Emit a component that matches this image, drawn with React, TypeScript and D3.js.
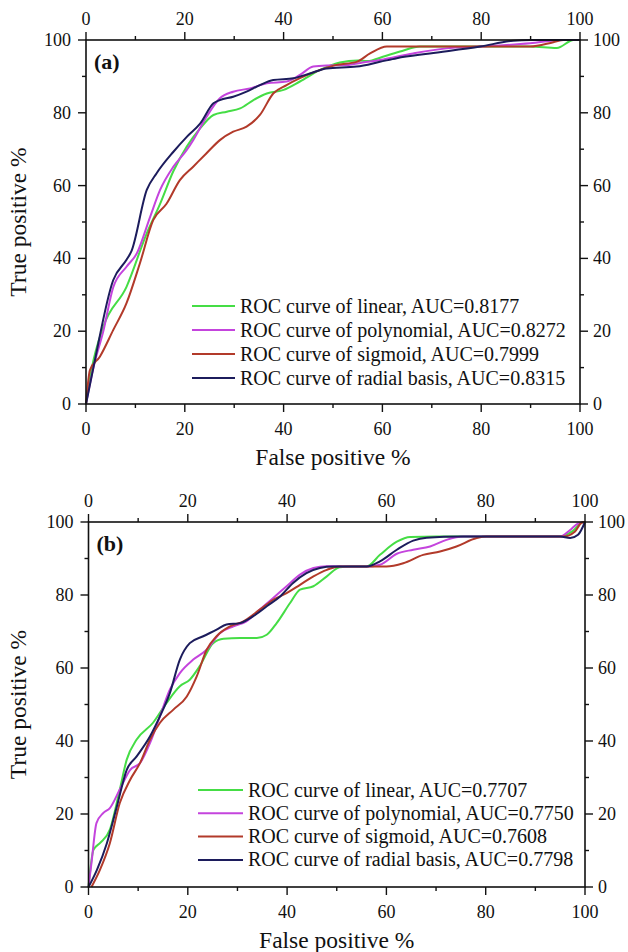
import React from "react";
import * as d3 from "d3";

// ---- data (x = false positive %, y = true positive %) ----
const seriesNames = ["linear", "polynomial", "sigmoid", "radial basis"];
const colors = ["#45dd45", "#c444dd", "#b23a2a", "#1c1c5c"];

const aucA = ["0.8177", "0.8272", "0.7999", "0.8315"];
const aucB = ["0.7707", "0.7750", "0.7608", "0.7798"];

const linearA = [[0,0],[1.1,9.3],[3.5,21.2],[8.2,32.2],[12.3,46.9],[15,55],[17.7,64],[20.4,70.7],[23.1,75.7],[25.8,79.4],[28.5,80.3],[31.2,81.2],[33.9,83.5],[36.6,85.3],[40,86.3],[43.3,88.6],[47.4,91.8],[51.4,93.8],[55,94.4],[57,94.2],[60.1,95.4],[64,97],[67.6,98.2],[80,98.2],[89.9,98.2],[95.3,97.8],[98.7,100],[100,100]];
const polyA = [[0,0],[1.5,10],[3.5,20],[5.5,32],[8.2,37.7],[10.3,41.4],[13,51.5],[15,58.8],[17.7,65.2],[20.4,69.8],[21.7,72.5],[24.4,78.9],[27.1,84],[29.8,85.8],[33.2,86.7],[36.6,88.1],[40.6,88.6],[43.3,90.4],[46,92.7],[48.7,93],[52.8,93.1],[56,93.8],[59.5,94.5],[66.2,96.3],[72.9,97.7],[79.8,98.2],[89.9,99.1],[96.6,100],[100,100]];
const sigA = [[0,0],[0.8,9.3],[2.8,13],[5.5,20.3],[8.2,27.7],[10.9,38.6],[13.6,50.5],[16.3,55],[19,61.5],[21.7,65.2],[24.4,68.9],[27.1,72.5],[29.8,74.8],[32.5,76.2],[35.2,79.4],[37.9,85.3],[40.6,87.6],[43.3,89.5],[47.4,91.8],[50.5,93.1],[54.8,94],[57.5,96.3],[60.9,98.2],[70,98.2],[80,98.2],[89.9,98.2],[94.6,99.4],[96.6,100],[100,100]];
const rbfA = [[0,0],[1.5,10],[5.5,34],[8.2,39.6],[9.2,42],[12.3,58.8],[14.3,63.4],[17.7,69.3],[20.4,73.4],[23.1,77],[25.8,82.6],[27.1,83.5],[29.8,84.4],[32.5,85.8],[35.2,87.6],[37.9,89],[42,89.5],[45.3,90.8],[48.7,92.2],[54.8,92.7],[59.5,94],[62.9,95],[69.6,96.3],[79.8,98.2],[86.5,99.8],[90,100],[100,100]];

const linearB = [[0,0],[1,10.2],[2.3,12],[4.3,15.7],[6.3,26.7],[7.7,34.9],[9.7,40.4],[13,45],[15.7,50.4],[18.4,55],[20.4,56.8],[22.4,60.5],[25.1,66.8],[27.2,68],[30.5,68.2],[33.9,68.2],[35.9,69.1],[37.9,72.3],[40.6,77.8],[42.6,81.5],[45.3,82.4],[48,85.1],[50.6,87.6],[53,87.8],[56,87.8],[58.7,91],[62.1,94.6],[64.8,95.9],[70,96],[80,96],[95,96],[97.5,97.5],[99.7,100],[100,100]];
const polyB = [[0,0],[0.6,6.6],[1.6,17.5],[3,20.3],[4.3,21.6],[6.3,26.7],[8.4,32.1],[10.4,34],[12.4,39.5],[14.4,46.8],[16.4,54.1],[18.4,58.6],[21.1,62.3],[23.8,65],[26.5,69.6],[29.2,71.4],[31.8,72.8],[34.5,76],[37.2,79.2],[39.9,82.4],[42.6,85.6],[45.3,87.4],[48,87.9],[52,87.8],[56,87.8],[58.7,88.3],[62.1,91.3],[65.4,92.4],[68.8,93.3],[72.1,95.1],[75.5,96],[85,96],[95,96],[97,97.8],[98.6,99.6],[100,100]];
const sigB = [[0.6,0],[2.3,4.7],[4.3,12],[6.3,23],[8.4,29.4],[10.4,34],[12.4,40.4],[14.4,45],[17.1,48.6],[19.8,52.2],[21.8,57.7],[23.8,65],[25.8,68.7],[28.5,71.4],[31.2,72.8],[34.5,76],[37.2,78.7],[39.9,80.5],[42.6,82.8],[45.3,85.1],[48,86.9],[50.6,87.8],[55,87.8],[60,87.8],[63.4,88.7],[67.4,91],[70.8,91.9],[74.1,93.3],[78.2,95.6],[80.2,96],[90,96],[95.6,96],[98,97.4],[99.3,99.8],[100,100]];
const rbfB = [[0,0],[1.7,4.7],[3.7,12],[5.7,22],[7.7,32.1],[9.7,35.8],[12.4,41.3],[14.4,46.8],[16.4,53.2],[18.4,62.3],[20.4,66.8],[23.1,68.7],[25.8,70.5],[27.8,71.9],[30.5,72.3],[33.2,74.2],[35.9,76.9],[38.6,79.6],[41.2,83.3],[43.9,86],[46.6,87.4],[49.3,87.8],[56,87.8],[58.7,89.2],[62.1,92.4],[65.4,94.9],[68.1,95.7],[75,96],[95,96],[97,95.6],[98.6,96.5],[100,100]];

const ticks = [0, 20, 40, 60, 80, 100];
const minorTicks = [10, 30, 50, 70, 90];

const font = "'Liberation Serif', 'Times New Roman', serif";

type Box = { left: number; right: number; top: number; bottom: number };

function Panel(props: {
  box: Box;
  label: string;
  series: number[][][];
  auc: string[];
  legend: { x1: number; x2: number; y0: number; dy: number };
}) {
  const { box, series, auc, legend } = props;
  const x = d3.scaleLinear().domain([0, 100]).range([box.left, box.right]);
  const y = d3.scaleLinear().domain([0, 100]).range([box.bottom, box.top]);
  const line = d3
    .line<number[]>()
    .x((d) => x(d[0]))
    .y((d) => y(d[1]))
    .curve(d3.curveMonotoneX);

  const major = 8;
  const minor = 4;
  const tickFont = { fontFamily: font, fontSize: 18, fill: "#111" };

  return (
    <g>
      {/* curves */}
      {series.map((s, i) => (
        <path key={i} d={line(s) || ""} fill="none" stroke={colors[i]} strokeWidth={2} />
      ))}

      {/* frame */}
      <rect x={box.left} y={box.top} width={box.right - box.left} height={box.bottom - box.top} fill="none" stroke="#111" strokeWidth={1.6} />

      {/* horizontal ticks, bottom and top */}
      {ticks.map((t) => (
        <g key={"x" + t}>
          <line x1={x(t)} x2={x(t)} y1={box.bottom} y2={box.bottom + major} stroke="#111" strokeWidth={1.4} />
          <line x1={x(t)} x2={x(t)} y1={box.top} y2={box.top - major} stroke="#111" strokeWidth={1.4} />
          <text x={x(t)} y={box.bottom + 31} textAnchor="middle" {...tickFont}>{t}</text>
          <text x={x(t)} y={box.top - 15} textAnchor="middle" {...tickFont}>{t}</text>
        </g>
      ))}
      {minorTicks.map((t) => (
        <g key={"xm" + t}>
          <line x1={x(t)} x2={x(t)} y1={box.bottom} y2={box.bottom + minor} stroke="#111" strokeWidth={1.4} />
          <line x1={x(t)} x2={x(t)} y1={box.top} y2={box.top - minor} stroke="#111" strokeWidth={1.4} />
        </g>
      ))}

      {/* vertical ticks, left and right */}
      {ticks.map((t) => (
        <g key={"y" + t}>
          <line x1={box.left} x2={box.left - major} y1={y(t)} y2={y(t)} stroke="#111" strokeWidth={1.4} />
          <line x1={box.right} x2={box.right + major} y1={y(t)} y2={y(t)} stroke="#111" strokeWidth={1.4} />
          <text x={box.left - 15} y={y(t) + 6} textAnchor="end" {...tickFont}>{t}</text>
          <text x={box.right + 13} y={y(t) + 6} textAnchor="start" {...tickFont}>{t}</text>
        </g>
      ))}
      {minorTicks.map((t) => (
        <g key={"ym" + t}>
          <line x1={box.left} x2={box.left - minor} y1={y(t)} y2={y(t)} stroke="#111" strokeWidth={1.4} />
          <line x1={box.right} x2={box.right + minor} y1={y(t)} y2={y(t)} stroke="#111" strokeWidth={1.4} />
        </g>
      ))}

      {/* panel label */}
      <text x={box.left + 8} y={box.top + 29} fontFamily={font} fontSize={22} fontWeight="bold" fill="#111">{props.label}</text>

      {/* axis titles */}
      <text x={(box.left + box.right) / 2} y={box.bottom + 61} textAnchor="middle" fontFamily={font} fontSize={23.5} fill="#111">False positive %</text>
      <text transform={`translate(26,${(box.top + box.bottom) / 2}) rotate(-90)`} textAnchor="middle" fontFamily={font} fontSize={23.5} fill="#111">True positive %</text>

      {/* legend */}
      {seriesNames.map((n, i) => {
        const ly = legend.y0 + i * legend.dy;
        return (
          <g key={n}>
            <line x1={legend.x1} x2={legend.x2} y1={ly} y2={ly} stroke={colors[i]} strokeWidth={2} />
            <text x={legend.x2 + 5} y={ly + 6.5} fontFamily={font} fontSize={20} fill="#111">
              {`ROC curve of ${n}, AUC=${auc[i]}`}
            </text>
          </g>
        );
      })}
    </g>
  );
}

export default function App() {
  return (
    <div style={{ position: "absolute", left: 0, top: 0 }}>
      <svg width={628} height={952} style={{ display: "block", background: "#fff" }}>
        <Panel
          box={{ left: 86, right: 580, top: 40, bottom: 404 }}
          label="(a)"
          series={[linearA, polyA, sigA, rbfA]}
          auc={aucA}
          legend={{ x1: 192, x2: 235, y0: 306, dy: 24 }}
        />
        <Panel
          box={{ left: 88.5, right: 585, top: 522, bottom: 887 }}
          label="(b)"
          series={[linearB, polyB, sigB, rbfB]}
          auc={aucB}
          legend={{ x1: 198, x2: 243, y0: 790, dy: 23.3 }}
        />
      </svg>
    </div>
  );
}
